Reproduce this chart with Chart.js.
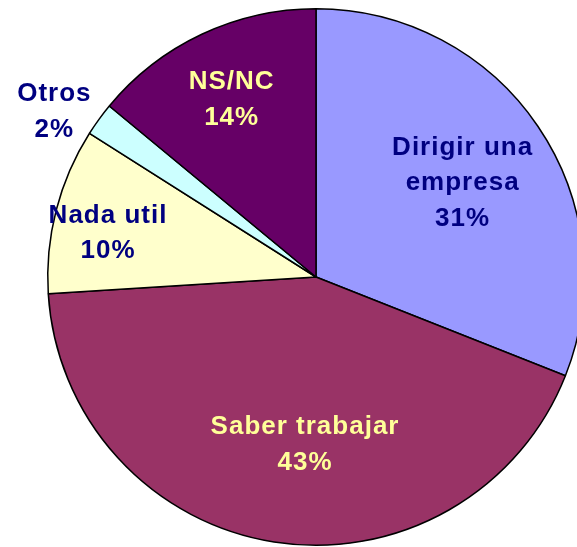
<!DOCTYPE html>
<html>
<head>
<meta charset="utf-8">
<script src="https://cdn.jsdelivr.net/npm/chart.js@4/dist/chart.umd.min.js"></script>
<style>
  html, body { margin: 0; padding: 0; background: #fff; overflow: hidden; }
  #wrap { position: relative; width: 577px; height: 547px; overflow: hidden; }
  canvas { position: absolute; left: 0; top: 0; }
</style>
</head>
<body>
<div id="wrap"><canvas id="c" width="632" height="554"></canvas></div>
<script>
const categories = [["Dirigir una", "empresa"], ["Saber trabajar"], ["Nada util"], ["Otros"], ["NS/NC"]];
const values = [31, 43, 10, 2, 14];
const percentLabels = ["31%", "43%", "10%", "2%", "14%"];
const sliceColors = ["#9999FF", "#993366", "#FFFFCC", "#CCFFFF", "#660066"];
const labelColors = ["#000080", "#FFFF99", "#000080", "#000080", "#FFFF99"];
// label placement: radius factor and small angle offset (degrees)
const labelRadius = [0.648, 0.628, 0.794, 1.155, 0.732];
const labelAngleOffset = [1.4, -5.1, -2.6, -3.8, -0.4];

const labelPlugin = {
  id: 'sliceLabels',
  afterDatasetsDraw(chart) {
    const ctx = chart.ctx;
    const meta = chart.getDatasetMeta(0);
    ctx.save();
    ctx.font = 'bold 26px "Liberation Sans", Arial, sans-serif';
    if ('letterSpacing' in ctx) ctx.letterSpacing = '1px';
    ctx.textAlign = 'center';
    ctx.textBaseline = 'middle';
    const lineH = 35.5;
    meta.data.forEach((arc, i) => {
      const p = arc.getProps(['x', 'y', 'startAngle', 'endAngle', 'outerRadius'], true);
      const mid = (p.startAngle + p.endAngle) / 2 + labelAngleOffset[i] * Math.PI / 180;
      const r = p.outerRadius * labelRadius[i];
      const cx = p.x + Math.cos(mid) * r;
      const cy = p.y + Math.sin(mid) * r;
      const lines = categories[i].concat([percentLabels[i]]);
      const top = cy - (lines.length - 1) * lineH / 2;
      ctx.fillStyle = labelColors[i];
      lines.forEach((t, k) => ctx.fillText(t, cx + 0.5, top + k * lineH));
    });
    ctx.restore();
  }
};

new Chart(document.getElementById('c'), {
  type: 'pie',
  data: {
    labels: categories.map(c => c.join(' ')),
    datasets: [{
      data: values,
      backgroundColor: sliceColors,
      borderColor: '#000000',
      borderWidth: 1.5
    }]
  },
  options: {
    responsive: false,
    animation: false,
    layout: { padding: 8 },
    plugins: { legend: { display: false }, tooltip: { enabled: false } }
  },
  plugins: [labelPlugin]
});
</script>
</body>
</html>
